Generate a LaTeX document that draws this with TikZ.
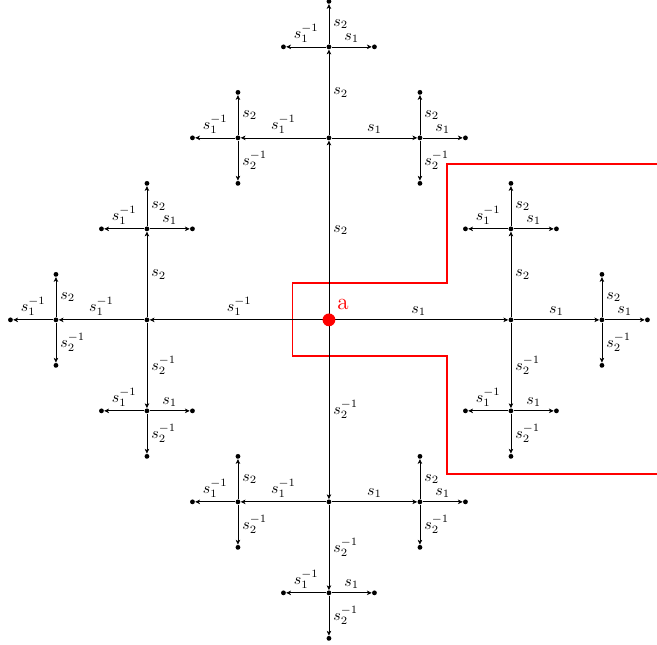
\documentclass[tikz,border=0pt]{standalone}
\usetikzlibrary{arrows.meta}
\begin{document}
\begin{tikzpicture}[
  dot/.style={circle,fill=black,inner sep=0pt,minimum size=3pt},
  arr/.style={-{Stealth[length=3pt,width=2.8pt,inset=0.8pt]},line width=0.45pt},
  labR/.style={above,inner sep=2.5pt},
  labL/.style={above,inner sep=2.5pt},
  labU/.style={right,inner sep=2.5pt},
  labD/.style={right,inner sep=2.5pt},
  redline/.style={draw=red,line width=1.1pt}
]
\useasboundingbox (-7.23,-7.14) rectangle (7.21,7.03);
\draw[redline] (7.25,3.43) -- (2.6,3.43) -- (2.6,0.81) -- (-0.8,0.81) -- (-0.8,-0.79) -- (2.6,-0.79) -- (2.6,-3.38) -- (7.25,-3.38);
\def\kidsR{R/1/0,U/0/1,D/0/-1}
\def\kidsL{L/-1/0,U/0/1,D/0/-1}
\def\kidsU{U/0/1,L/-1/0,R/1/0}
\def\kidsD{D/0/-1,L/-1/0,R/1/0}
\def\txtR{$s_1$}
\def\txtL{$s_1^{-1}$}
\def\txtU{$s_2$}
\def\txtD{$s_2^{-1}$}
\foreach \a/\ax/\ay in {R/1/0,L/-1/0,U/0/1,D/0/-1}{
  \coordinate (c\a) at (0,0);
  \node[dot] (n\a) at (4*\ax,4*\ay) {};
  \draw[arr] (c\a) -- node[lab\a]{\csname txt\a\endcsname} (n\a);
  \expandafter\let\expandafter\kidsB\csname kids\a\endcsname
  \foreach \b/\bx/\by in \kidsB {
    \node[dot] (n\a\b) at ([shift={(2*\bx,2*\by)}]n\a.center) {};
    \draw[arr] (n\a) -- node[lab\b]{\csname txt\b\endcsname} (n\a\b);
    \expandafter\let\expandafter\kidsC\csname kids\b\endcsname
    \foreach \c/\cx/\cy in \kidsC {
      \node[dot] (n\a\b\c) at ([shift={(\cx,\cy)}]n\a\b.center) {};
      \draw[arr] (n\a\b) -- node[lab\c]{\csname txt\c\endcsname} (n\a\b\c);
    }
  }
}
\node[dot,fill=red,minimum size=8pt] (n) at (0,0) {};
\node[red,font=\Large] (alab) at (0.31,0.33) {a};
\end{tikzpicture}
\end{document}
